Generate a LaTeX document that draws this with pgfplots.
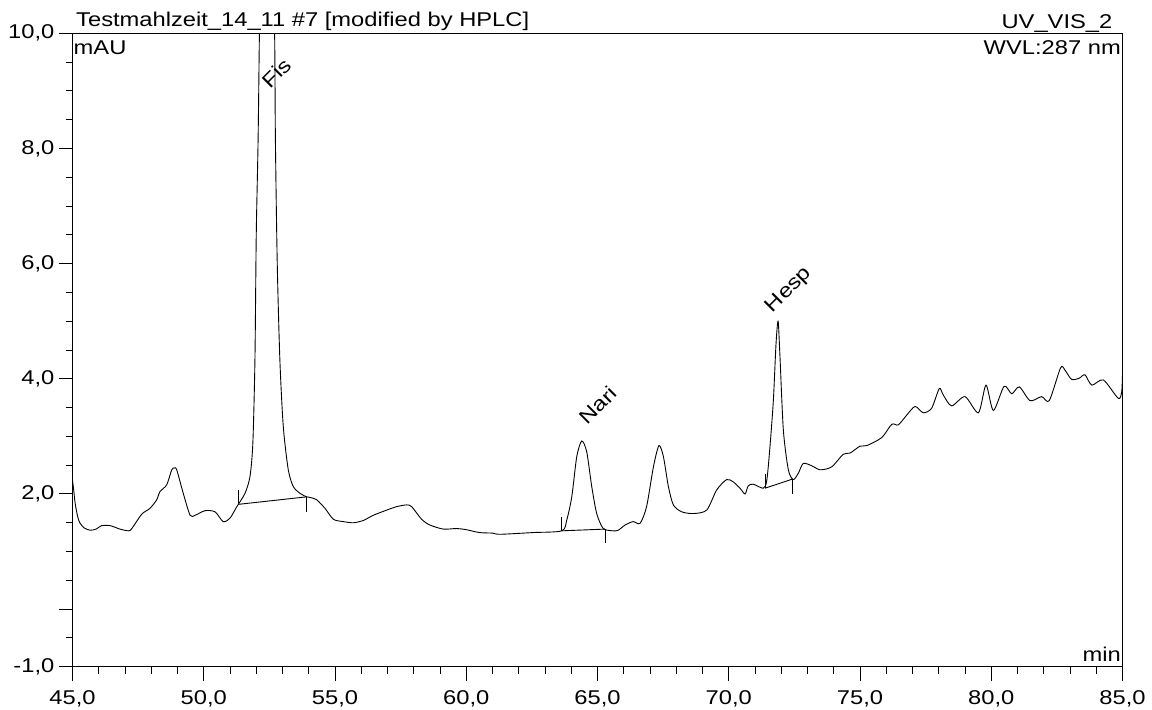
\documentclass[border=0pt]{standalone}
\usepackage{fontspec}
\setmainfont{Liberation Sans}[FakeStretch=1.19]
\usepackage{pgfplots}
\pgfplotsset{compat=1.18}
\begin{document}
\fontsize{20}{24}\selectfont
\begin{tikzpicture}
\begin{axis}[
  name=ax,
  scale only axis,
  width=1050bp, height=633.4bp,
  xmin=45, xmax=85, ymin=-1, ymax=10,
  axis line style={line width=1.1bp},
  tick style={line width=1bp, black},
  tick align=outside,
  tick pos=left,
  major tick length=14bp,
  minor tick length=7bp,
  xtick={45,50,...,85},
  minor xtick={46,47,48,49,51,52,53,54,56,57,58,59,61,62,63,64,66,67,68,69,71,72,73,74,76,77,78,79,81,82,83,84},
  ytick={-1,2,4,6,8,10},
  extra y ticks={0},
  extra y tick labels={},
  extra y tick style={major tick length=14bp},
  minor ytick={-0.5,0.5,1,1.5,2.5,3,3.5,4.5,5,5.5,6.5,7,7.5,8.5,9,9.5},
  /pgf/number format/.cd, use comma, fixed, fixed zerofill, precision=1, assume math mode=true,
  /pgfplots/.cd,
  xticklabel style={anchor=north, inner sep=0pt, yshift=-10bp, font=\fontsize{20}{24}\selectfont},
  yticklabel style={anchor=east, inner sep=0pt, xshift=-4bp, font=\fontsize{20}{24}\selectfont},
  clip mode=individual,
]
\addplot[black, line width=0.9bp, smooth, tension=0.45] coordinates {
(45.00,2.24) (45.05,2.05) (45.10,1.84) (45.20,1.60) (45.29,1.49) (45.45,1.41)
(45.67,1.37) (45.90,1.39) (46.11,1.45) (46.43,1.45) (46.81,1.39) (47.13,1.36)
(47.26,1.40) (47.64,1.65) (47.95,1.75) (48.21,1.90) (48.33,2.04) (48.59,2.16)
(48.78,2.42) (48.88,2.45) (48.97,2.42) (49.22,2.01) (49.48,1.63) (49.67,1.63)
(50.05,1.71) (50.43,1.69) (50.74,1.52) (51.00,1.58) (51.26,1.78) (51.57,2.01)
(51.76,2.30) (51.87,2.88) (51.95,4.33) (52.00,6.5) (52.07,8.14) (52.12,10.0)
(52.20,13.0) (52.40,16.0) (52.60,13.0) (52.70,10.0) (52.73,8.14) (52.80,6.0)
(52.90,4.33) (53.03,3.17) (53.22,2.42) (53.41,2.13) (53.67,2.01) (53.92,1.95)
(54.05,1.94) (54.30,1.90) (54.62,1.75) (54.94,1.56) (55.32,1.52) (55.70,1.50)
(56.08,1.54) (56.46,1.63) (56.97,1.72) (57.35,1.78) (57.73,1.81) (57.92,1.78)
(58.30,1.56) (58.62,1.46) (59.13,1.39) (59.64,1.40) (60.00,1.38) (60.50,1.33)
(61.00,1.32) (61.29,1.30) (62.55,1.33) (63.64,1.36) (63.83,1.55) (64.02,1.95)
(64.21,2.65) (64.40,2.92) (64.59,2.73) (64.78,2.13) (64.97,1.66) (65.22,1.40)
(65.60,1.36) (65.79,1.37) (66.05,1.46) (66.36,1.52) (66.62,1.49) (66.87,1.78)
(67.13,2.47) (67.34,2.84) (67.51,2.65) (67.70,2.13) (67.89,1.81) (68.21,1.69)
(68.65,1.66) (69.16,1.72) (69.54,2.07) (69.92,2.25) (70.17,2.21) (70.43,2.10)
(70.62,2.00) (70.74,2.14) (70.93,2.17) (71.32,2.10) (71.45,2.24) (71.57,2.82)
(71.70,3.63) (71.80,4.60) (71.88,5.00) (71.95,4.40) (72.08,3.11) (72.27,2.42)
(72.46,2.25) (72.65,2.36) (72.84,2.53) (73.16,2.49) (73.48,2.42) (73.92,2.47)
(74.36,2.69) (74.62,2.71) (75.00,2.83) (75.26,2.84) (75.83,2.98) (76.21,3.21)
(76.46,3.20) (76.78,3.37) (77.10,3.52) (77.41,3.41) (77.73,3.49) (78.02,3.83)
(78.17,3.72) (78.49,3.53) (79.00,3.69) (79.51,3.41) (79.80,3.89) (80.08,3.45)
(80.49,3.87) (80.78,3.74) (81.07,3.86) (81.48,3.62) (81.92,3.69) (82.21,3.62)
(82.64,4.19) (82.81,4.15) (83.06,3.99) (83.35,4.01) (83.57,4.07) (83.83,3.89)
(84.27,3.98) (84.84,3.66) (84.97,3.78) (85.00,4.10)
};
% integration baselines and delimiters
\addplot[black, line width=0.9bp] coordinates {(51.32,1.82) (53.92,1.95)};
\addplot[black, line width=0.9bp] coordinates {(51.32,1.82) (51.32,2.07)};
\addplot[black, line width=0.9bp] coordinates {(53.92,1.95) (53.92,1.69)};
\addplot[black, line width=0.9bp] coordinates {(63.64,1.36) (65.29,1.39)};
\addplot[black, line width=0.9bp] coordinates {(63.64,1.36) (63.64,1.60)};
\addplot[black, line width=0.9bp] coordinates {(65.29,1.39) (65.29,1.14)};
\addplot[black, line width=0.9bp] coordinates {(71.38,2.10) (72.44,2.26)};
\addplot[black, line width=0.9bp] coordinates {(71.38,2.10) (71.38,2.34)};
\addplot[black, line width=0.9bp] coordinates {(72.44,2.26) (72.44,2.00)};
% peak names
\node[rotate=45, inner sep=0pt] at (axis cs:52.78,9.31) {Fis};
\node[rotate=45, inner sep=0pt] at (axis cs:65.02,3.54) {Nari};
\node[rotate=45, inner sep=0pt] at (axis cs:72.30,5.54) {Hesp};
% header texts
\node[anchor=base west, inner sep=0pt] at ([xshift=3.5bp, yshift=7bp]rel axis cs:0,1) {Testmahlzeit\_14\_11 \#7 [modified by HPLC]};
\node[anchor=base east, inner sep=0pt] at ([xshift=-10bp, yshift=5bp]rel axis cs:1,1) {UV\_VIS\_2};
\node[anchor=base west, inner sep=0pt] at ([xshift=1bp, yshift=-21.7bp]rel axis cs:0,1) {mAU};
\node[anchor=base east, inner sep=0pt] at ([xshift=-1.5bp, yshift=-21.7bp]rel axis cs:1,1) {WVL:287 nm};
\node[anchor=base east, inner sep=0pt] at ([xshift=-1.5bp, yshift=5bp]rel axis cs:1,0) {min};
\end{axis}
\pgfresetboundingbox
\path[use as bounding box] ([xshift=-72.5bp, yshift=-42.3bp]ax.south west) rectangle ([xshift=29.5bp, yshift=33.3bp]ax.north east);
\end{tikzpicture}
\end{document}
